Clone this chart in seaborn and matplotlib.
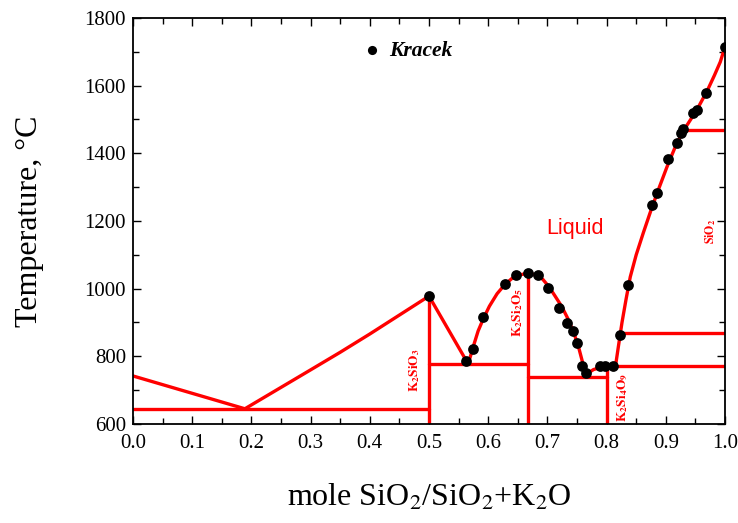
import numpy as np
import pandas as pd
import matplotlib
matplotlib.use('Agg')
import matplotlib.pyplot as plt
from matplotlib.ticker import MultipleLocator
import seaborn as sns

# Kracek data points (mole fraction SiO2, temperature C)
kracek_x = [0.500, 0.563, 0.575, 0.592, 0.628, 0.647, 0.667, 0.684, 0.701, 0.720,
            0.733, 0.743, 0.750, 0.758, 0.765, 0.789, 0.797, 0.811, 0.823, 0.836,
            0.877, 0.885, 0.904, 0.919, 0.926, 0.929, 0.946, 0.953, 0.968, 1.000]
kracek_t = [978, 786, 822, 916, 1014, 1040, 1046, 1040, 1002, 943,
            899, 875, 839, 771, 751, 771, 771, 771, 863, 1011,
            1247, 1283, 1383, 1431, 1460, 1472, 1519, 1528, 1578, 1715]

# liquidus branches
liq_k2o_x = [0.0, 0.189]
liq_k2o_t = [742, 645]
liq_k2sio3_x = [0.189, 0.30, 0.35, 0.40, 0.45, 0.50]
liq_k2sio3_t = [645, 760, 812, 866, 922, 978]
liq_k2sio3_r_x = [0.50, 0.566]
liq_k2sio3_r_t = [978, 778]
liq_k2si2o5_l_x = [0.566, 0.570, 0.575, 0.583, 0.592, 0.602, 0.615, 0.628, 0.640,
                   0.653, 0.667]
liq_k2si2o5_l_t = [778, 800, 830, 875, 912, 948, 985, 1012, 1030, 1041, 1045]
liq_k2si2o5_r_x = [0.667, 0.680, 0.692, 0.703, 0.713, 0.724, 0.735, 0.745, 0.753,
                   0.759, 0.765]
liq_k2si2o5_r_t = [1045, 1041, 1028, 1005, 978, 948, 910, 868, 825, 785, 742]
liq_k2si4o9_x = [0.765, 0.770, 0.778, 0.788, 0.800, 0.815]
liq_k2si4o9_t = [742, 752, 761, 766, 769, 771]
liq_sio2_x = [0.815, 0.820, 0.826, 0.833, 0.840, 0.850, 0.862, 0.875, 0.888, 0.902,
              0.915, 0.928, 0.942, 0.956, 0.970, 0.982, 0.992, 1.000]
liq_sio2_t = [771, 830, 900, 970, 1035, 1100, 1165, 1232, 1295, 1360,
              1415, 1462, 1500, 1540, 1585, 1630, 1670, 1715]

# solidus / invariant lines and compounds
eut1_x, eut1_t = [0.0, 0.5], [645, 645]
eut2_x, eut2_t = [0.5, 0.667], [778, 778]
eut3_x, eut3_t = [0.667, 0.8], [739, 739]
eut4_x, eut4_t = [0.8, 1.0], [771, 771]
trans1_x, trans1_t = [0.823, 1.0], [868, 868]
trans2_x, trans2_t = [0.928, 1.0], [1470, 1470]
k2sio3_x, k2sio3_t = [0.5, 0.5], [600, 978]
k2si2o5_x, k2si2o5_t = [0.667, 0.667], [600, 1045]
k2si4o9_x, k2si4o9_t = [0.8, 0.8], [600, 771]

segments = {
    'liq_k2o': (liq_k2o_x, liq_k2o_t),
    'liq_k2sio3': (liq_k2sio3_x, liq_k2sio3_t),
    'liq_k2sio3_r': (liq_k2sio3_r_x, liq_k2sio3_r_t),
    'liq_k2si2o5_l': (liq_k2si2o5_l_x, liq_k2si2o5_l_t),
    'liq_k2si2o5_r': (liq_k2si2o5_r_x, liq_k2si2o5_r_t),
    'liq_k2si4o9': (liq_k2si4o9_x, liq_k2si4o9_t),
    'liq_sio2': (liq_sio2_x, liq_sio2_t),
    'eut1': (eut1_x, eut1_t),
    'eut2': (eut2_x, eut2_t),
    'eut3': (eut3_x, eut3_t),
    'eut4': (eut4_x, eut4_t),
    'trans1': (trans1_x, trans1_t),
    'trans2': (trans2_x, trans2_t),
    'k2sio3': (k2sio3_x, k2sio3_t),
    'k2si2o5': (k2si2o5_x, k2si2o5_t),
    'k2si4o9': (k2si4o9_x, k2si4o9_t),
}

rows = []
for name, (xs, ts) in segments.items():
    for i, (x, t) in enumerate(zip(xs, ts)):
        rows.append({'seg': name, 'order': i, 'x': x, 't': t})
lines_df = pd.DataFrame(rows)
pts_df = pd.DataFrame({'x': kracek_x, 't': kracek_t})

sns.set_theme(style='ticks')
plt.rcParams['font.family'] = ['Liberation Serif', 'DejaVu Serif']
plt.rcParams['mathtext.fontset'] = 'stix'
plt.rcParams['text.color'] = 'black'
plt.rcParams['axes.labelcolor'] = 'black'
plt.rcParams['xtick.color'] = 'black'
plt.rcParams['ytick.color'] = 'black'

fig = plt.figure(figsize=(7.38, 5.23), dpi=100)
ax = fig.add_axes([133/738, 99/523, 592/738, 406/523])

sns.lineplot(data=lines_df, x='x', y='t', units='seg', estimator=None, sort=False,
             color='#ff0000', lw=2.4, ax=ax, legend=False)
sns.scatterplot(data=pts_df, x='x', y='t', color='black', s=60, edgecolor='black',
                linewidth=0, ax=ax, label='Kracek', zorder=3)

ax.set_xlim(0, 1.0)
ax.set_ylim(600, 1800)
ax.xaxis.set_major_locator(MultipleLocator(0.1))
ax.xaxis.set_minor_locator(MultipleLocator(0.05))
ax.yaxis.set_major_locator(MultipleLocator(200))
ax.yaxis.set_minor_locator(MultipleLocator(100))
ax.set_xticks(ax.get_xticks())
ax.set_xticklabels([f'{v:.1f}' for v in ax.get_xticks()])
ax.set_xlim(0, 1.0)
ax.tick_params(which='both', direction='in', top=True, right=True, labelsize=15,
               width=1)
ax.tick_params(which='major', length=6)
ax.tick_params(which='minor', length=4)
ax.tick_params(axis='x', pad=7)
ax.tick_params(axis='y', pad=5)
for sp in ax.spines.values():
    sp.set_color('black')
    sp.set_linewidth(1.3)

ax.set_xlabel(r'mole SiO$_2$/SiO$_2$+K$_2$O', fontsize=23)
ax.set_ylabel('Temperature, °C', fontsize=23)
ax.xaxis.set_label_coords(0.5, -0.145)
ax.yaxis.set_label_coords(-0.15, 0.5)

ax.legend(loc='center left', bbox_to_anchor=(0.385, 0.919), frameon=False,
          handlelength=1.0, handletextpad=0.3, borderpad=0, borderaxespad=0,
          markerscale=0.85, prop={'family': 'Liberation Serif', 'weight': 'bold',
                                  'style': 'italic', 'size': 15.5})

red = '#ff0000'
ax.text(0.747, 1179, 'Liquid', color=red, fontsize=15.5, family='Liberation Sans',
        ha='center', va='center')
ax.text(0.475, 760, r'$\mathbf{K_2SiO_3}$', color=red, fontsize=9.5, rotation=90,
        ha='center', va='center')
ax.text(0.650, 930, r'$\mathbf{K_2Si_2O_5}$', color=red, fontsize=9.5, rotation=90,
        ha='center', va='center')
ax.text(0.828, 680, r'$\mathbf{K_2Si_4O_9}$', color=red, fontsize=9.5, rotation=90,
        ha='center', va='center')
ax.text(0.975, 1170, r'$\mathbf{SiO_2}$', color=red, fontsize=8.5, rotation=90,
        ha='center', va='center')

fig.savefig('out.png', dpi=100)
